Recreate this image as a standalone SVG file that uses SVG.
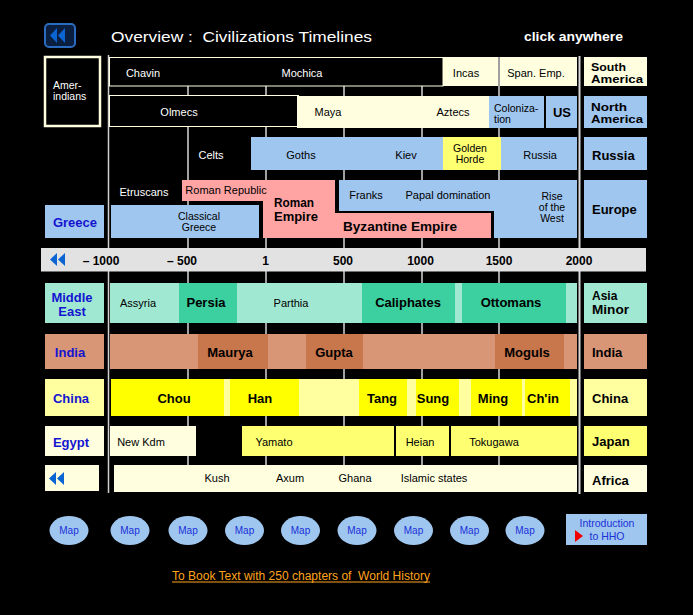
<svg xmlns="http://www.w3.org/2000/svg" width="693" height="615" viewBox="0 0 693 615">
<style>
text { font-family: "Liberation Sans", Arial, sans-serif; font-size: 11px; fill: #000; text-anchor: middle; }
.w { fill: #fff; }
.s { text-anchor: start; }
.b { font-weight: bold; font-size: 13px; }
.b2 { font-weight: bold; font-size: 11px; }
.two { font-size: 10.5px; }
.lb { font-weight: bold; font-size: 13px; fill: #1414d0; }
.yr { font-weight: bold; font-size: 12px; }
.map { font-size: 10px; fill: #1a30d8; }
.pre { white-space: pre; }
.cream { fill: #ffffe0; }
.blue { fill: #9fc6ef; }
.pink { fill: #ffa3a3; }
.tl { fill: #a0e8d2; }
.td { fill: #3ccf9f; }
.il { fill: #d89676; }
.id { fill: #c8764c; }
.cl { fill: #ffffa0; }
.cy { fill: #ffff00; }
.jy { fill: #ffff72; }
.arr { fill: #0a64d2; }
.grid line { stroke: #a0a0a0; stroke-width: 2; }
</style>

<rect x="0" y="0" width="693" height="615" fill="#000"/>

<g id="header">
  <rect x="45" y="24" width="30" height="23" rx="4" fill="#0a1e40" stroke="#2c6cc0" stroke-width="2"/>
  <polygon class="arr" points="50,35.5 57,28 57,43"/>
  <polygon class="arr" points="58,35.5 65,28 65,43"/>
  <text class="w s pre" x="111" y="42" style="font-size:15px" textLength="261" lengthAdjust="spacingAndGlyphs">Overview :  Civilizations Timelines</text>
  <text class="w s" x="524" y="41" style="font-size:13px;font-weight:bold" textLength="99" lengthAdjust="spacingAndGlyphs">click anywhere</text>
</g>

<g id="connectors" class="grid">
  <line x1="188" y1="57" x2="188" y2="492"/>
  <line x1="266" y1="57" x2="266" y2="492"/>
  <line x1="344" y1="57" x2="344" y2="492"/>
  <line x1="422" y1="57" x2="422" y2="492"/>
  <line x1="499" y1="57" x2="499" y2="492"/>
  <line x1="108.5" y1="55" x2="108.5" y2="493" style="stroke:#d0d0d0;stroke-width:1.5"/>
  <line x1="579.5" y1="56" x2="579.5" y2="494" style="stroke:#d8d8d8;stroke-width:2"/>
</g>

<g id="amerindians">
  <rect x="45" y="57" width="55" height="69" fill="#000" stroke="#ffffe0" stroke-width="2.5"/>
  <text class="w s two" x="53" y="89">Amer-</text>
  <text class="w s two" x="53" y="100">indians</text>
</g>

<g id="row-south-america">
  <rect x="109.5" y="57.5" width="333.5" height="28.5" fill="#000" stroke="#ffffe0" stroke-width="1"/>
  <text class="w" x="143" y="77">Chavin</text>
  <text class="w" x="302" y="77">Mochica</text>
  <rect class="cream" x="443" y="57" width="55" height="29"/>
  <text x="466" y="77">Incas</text>
  <rect class="cream" x="500" y="57" width="77" height="29"/>
  <text x="536" y="77">Span. Emp.</text>
</g>
<g id="label-south-america">
  <rect class="cream" x="584" y="57" width="63" height="29"/>
  <text class="b2 s" x="591" y="71" textLength="35" lengthAdjust="spacingAndGlyphs">South</text>
  <text class="b2 s" x="591" y="82.5" textLength="52" lengthAdjust="spacingAndGlyphs">America</text>
</g>

<g id="row-north-america">
  <rect x="109.5" y="95.5" width="189" height="31" fill="#000" stroke="#ffffe0" stroke-width="1"/>
  <text class="w" x="179" y="116">Olmecs</text>
  <rect class="cream" x="297" y="96" width="192" height="32"/>
  <text x="328" y="116">Maya</text>
  <text x="453" y="116">Aztecs</text>
  <rect class="blue" x="489" y="96" width="55" height="32"/>
  <text class="s two" x="494" y="112">Coloniza-</text>
  <text class="s two" x="494" y="123">tion</text>
  <rect class="blue" x="546" y="96" width="31" height="32"/>
  <text class="b" x="562" y="116.5">US</text>
</g>
<g id="label-north-america">
  <rect class="blue" x="584" y="96" width="63" height="32"/>
  <text class="b2 s" x="591" y="111" textLength="36" lengthAdjust="spacingAndGlyphs">North</text>
  <text class="b2 s" x="591" y="122.5" textLength="52" lengthAdjust="spacingAndGlyphs">America</text>
</g>

<g id="row-russia">
  <text class="w" x="211" y="159">Celts</text>
  <rect class="blue" x="251" y="137" width="326" height="33"/>
  <text x="301" y="159">Goths</text>
  <text x="406" y="159">Kiev</text>
  <rect class="jy" x="443" y="137" width="58" height="33"/>
  <text class="two" x="470" y="152">Golden</text>
  <text class="two" x="470" y="163">Horde</text>
  <text x="540" y="159">Russia</text>
</g>
<g id="label-russia">
  <rect class="blue" x="584" y="137" width="63" height="33"/>
  <text class="b s" x="592" y="159.5">Russia</text>
</g>

<g id="row-europe">
  <text class="w" x="144" y="196">Etruscans</text>
  <rect class="blue" x="339" y="180" width="238" height="58"/>
  <text x="366" y="199">Franks</text>
  <text x="448" y="199">Papal domination</text>
  <text class="two" x="552" y="200">Rise</text>
  <text class="two" x="552" y="211">of the</text>
  <text class="two" x="552" y="222">West</text>
  <rect x="335" y="211" width="159" height="27" fill="#000"/>
  <polygon class="pink" points="182,180 335,180 335,213 491,213 491,238 263,238 263,201 182,201"/>
  <text x="226" y="194">Roman Republic</text>
  <text class="b s" x="274" y="207" style="font-size:12px" textLength="40" lengthAdjust="spacingAndGlyphs">Roman</text>
  <text class="b s" x="274" y="220.5" style="font-size:12px" textLength="44" lengthAdjust="spacingAndGlyphs">Empire</text>
  <text class="b s" x="343" y="230.5" textLength="114" lengthAdjust="spacingAndGlyphs">Byzantine Empire</text>
  <rect class="blue" x="111" y="205" width="148" height="33"/>
  <text class="two" x="199" y="220">Classical</text>
  <text class="two" x="199" y="231">Greece</text>
</g>
<g id="label-greece">
  <rect class="blue" x="45" y="205" width="59" height="33"/>
  <text class="lb" x="75" y="226.5">Greece</text>
</g>
<g id="label-europe">
  <rect class="blue" x="584" y="180" width="63" height="58"/>
  <text class="b s" x="592" y="213.5">Europe</text>
</g>

<g id="timeline">
  <rect x="41" y="248" width="605" height="23.5" fill="#e2e2e2"/>
  <polygon class="arr" points="50,259.5 57,253 57,266"/>
  <polygon class="arr" points="58,259.5 65,253 65,266"/>
  <text class="yr" x="101" y="264.5">– 1000</text>
  <text class="yr" x="182" y="264.5">– 500</text>
  <text class="yr" x="265.5" y="264.5">1</text>
  <text class="yr" x="343" y="264.5">500</text>
  <text class="yr" x="420.5" y="264.5">1000</text>
  <text class="yr" x="499" y="264.5">1500</text>
  <text class="yr" x="579" y="264.5">2000</text>
</g>

<g id="label-middle-east">
  <rect class="tl" x="45" y="283" width="59" height="40"/>
  <text class="lb" x="72" y="301.5">Middle</text>
  <text class="lb" x="72" y="315.5">East</text>
</g>
<g id="row-middle-east">
  <rect class="tl" x="110" y="283" width="467" height="40"/>
  <rect class="td" x="179" y="283" width="58" height="40"/>
  <rect class="td" x="362" y="283" width="93" height="40"/>
  <rect class="td" x="462" y="283" width="104" height="40"/>
  <text x="138" y="307">Assyria</text>
  <text class="b" x="206" y="306.5">Persia</text>
  <text x="291" y="307">Parthia</text>
  <text class="b" x="408" y="306.5">Caliphates</text>
  <text class="b" x="511" y="306.5">Ottomans</text>
</g>
<g id="label-asia-minor">
  <rect class="tl" x="584" y="283" width="63" height="40"/>
  <text class="b s" x="592" y="300" style="font-size:12px">Asia</text>
  <text class="b s" x="592" y="313.5" style="font-size:12px" textLength="37" lengthAdjust="spacingAndGlyphs">Minor</text>
</g>

<g id="label-india">
  <rect class="il" x="45" y="334" width="59" height="35"/>
  <text class="lb" x="70" y="356.5">India</text>
</g>
<g id="row-india">
  <rect class="il" x="110" y="334" width="467" height="35"/>
  <rect class="id" x="198" y="334" width="70" height="35"/>
  <rect class="id" x="306" y="334" width="57" height="35"/>
  <rect class="id" x="495" y="334" width="69" height="35"/>
  <text class="b" x="230" y="356.5">Maurya</text>
  <text class="b" x="334" y="356.5">Gupta</text>
  <text class="b" x="527" y="356.5">Moguls</text>
</g>
<g id="label-india-right">
  <rect class="il" x="584" y="334" width="63" height="35"/>
  <text class="b s" x="592" y="356.5">India</text>
</g>

<g id="label-china">
  <rect class="cl" x="45" y="379" width="59" height="37"/>
  <text class="lb" x="71" y="402.5">China</text>
</g>
<g id="row-china">
  <rect class="cl" x="111" y="379" width="466" height="37"/>
  <rect class="cy" x="111" y="379" width="113" height="37"/>
  <rect class="cy" x="230" y="379" width="69" height="37"/>
  <rect class="cy" x="359" y="379" width="48" height="37"/>
  <rect class="cy" x="416" y="379" width="43" height="37"/>
  <rect class="cy" x="471" y="379" width="51" height="37"/>
  <rect class="cy" x="525" y="379" width="45" height="37"/>
  <text class="b" x="174" y="402.5">Chou</text>
  <text class="b" x="260" y="402.5">Han</text>
  <text class="b" x="382" y="402.5">Tang</text>
  <text class="b" x="433" y="402.5">Sung</text>
  <text class="b" x="493" y="402.5">Ming</text>
  <text class="b" x="543" y="402.5">Ch'in</text>
</g>
<g id="label-china-right">
  <rect class="cl" x="584" y="379" width="63" height="37"/>
  <text class="b s" x="592" y="402.5">China</text>
</g>

<g id="label-egypt">
  <rect class="cream" x="45" y="426" width="59" height="30"/>
  <text class="lb" x="71" y="446.5">Egypt</text>
</g>
<g id="row-egypt-japan">
  <rect class="cream" x="110" y="426" width="86" height="30"/>
  <text x="141" y="446">New Kdm</text>
  <rect class="jy" x="242" y="426" width="152" height="30"/>
  <text x="274" y="446">Yamato</text>
  <rect class="jy" x="396" y="426" width="53" height="30"/>
  <text x="420" y="446">Heian</text>
  <rect class="jy" x="451" y="426" width="126" height="30"/>
  <text x="494" y="446">Tokugawa</text>
</g>
<g id="label-japan">
  <rect class="jy" x="584" y="426" width="63" height="30"/>
  <text class="b s" x="592" y="445.5">Japan</text>
</g>

<g id="back-bottom">
  <rect class="cream" x="45" y="465" width="54" height="26"/>
  <polygon class="arr" points="49,478.5 56,472 56,485"/>
  <polygon class="arr" points="57,478.5 64,472 64,485"/>
</g>
<g id="row-africa">
  <rect class="cream" x="114" y="465" width="463" height="27"/>
  <text x="217" y="482">Kush</text>
  <text x="290" y="482">Axum</text>
  <text x="355" y="482">Ghana</text>
  <text x="434" y="482">Islamic states</text>
</g>
<g id="label-africa">
  <rect class="cream" x="584" y="465" width="63" height="27"/>
  <text class="b s" x="592" y="484.5">Africa</text>
</g>

<g id="maps">
  <g id="map1"><ellipse class="blue" cx="69" cy="530.5" rx="19.5" ry="14.5"/><text class="map" x="69" y="534">Map</text></g>
  <g id="map2"><ellipse class="blue" cx="130" cy="530.5" rx="19.5" ry="14.5"/><text class="map" x="130" y="534">Map</text></g>
  <g id="map3"><ellipse class="blue" cx="188" cy="530.5" rx="19.5" ry="14.5"/><text class="map" x="188" y="534">Map</text></g>
  <g id="map4"><ellipse class="blue" cx="244.5" cy="530.5" rx="19.5" ry="14.5"/><text class="map" x="244.5" y="534">Map</text></g>
  <g id="map5"><ellipse class="blue" cx="300.5" cy="530.5" rx="19.5" ry="14.5"/><text class="map" x="300.5" y="534">Map</text></g>
  <g id="map6"><ellipse class="blue" cx="357" cy="530.5" rx="19.5" ry="14.5"/><text class="map" x="357" y="534">Map</text></g>
  <g id="map7"><ellipse class="blue" cx="413.5" cy="530.5" rx="19.5" ry="14.5"/><text class="map" x="413.5" y="534">Map</text></g>
  <g id="map8"><ellipse class="blue" cx="469.5" cy="530.5" rx="19.5" ry="14.5"/><text class="map" x="469.5" y="534">Map</text></g>
  <g id="map9"><ellipse class="blue" cx="525" cy="530.5" rx="19.5" ry="14.5"/><text class="map" x="525" y="534">Map</text></g>
</g>

<g id="intro">
  <rect class="blue" x="566" y="514" width="81" height="31"/>
  <text class="map" style="font-size:10.5px" x="607" y="527">Introduction</text>
  <text class="map" style="font-size:10.5px" x="607" y="540">to HHO</text>
  <polygon points="575,530 583,536 575,542" fill="#f00000"/>
</g>

<g id="book-link">
  <text x="172" y="580" class="s pre" style="font-size:12.5px;fill:#ffa41c" textLength="258" lengthAdjust="spacingAndGlyphs">To Book Text with 250 chapters of  World History</text>
  <line x1="172" y1="582" x2="430" y2="582" stroke="#ffa41c" stroke-width="1"/>
</g>
</svg>
